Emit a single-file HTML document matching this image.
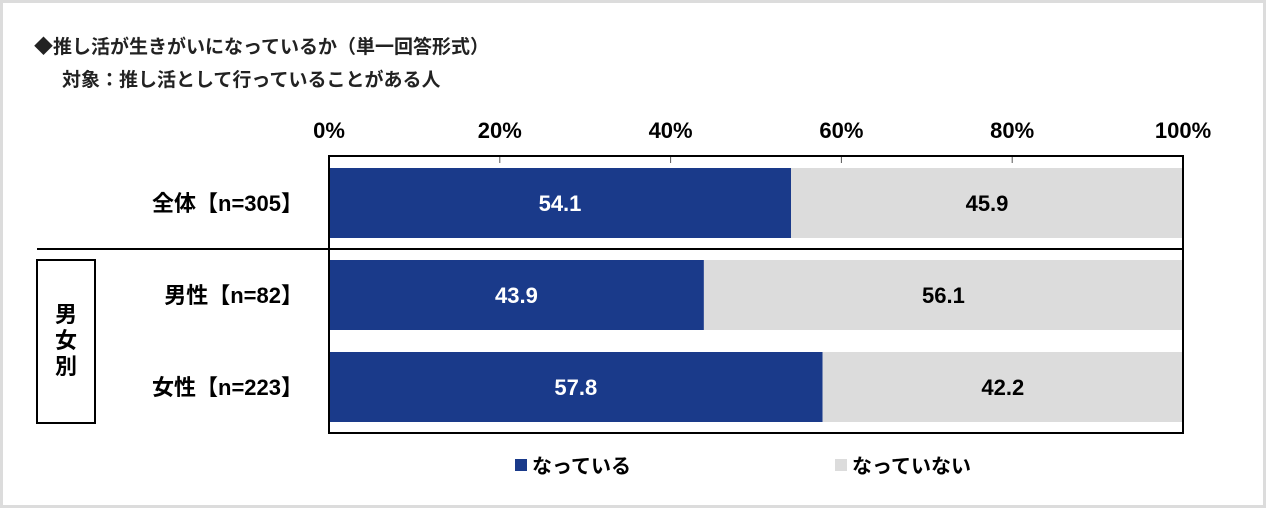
<!DOCTYPE html>
<html><head><meta charset="utf-8"><style>
body{margin:0;background:#fff;}
svg text{font-family:"Liberation Sans","Noto Sans CJK JP",sans-serif;font-weight:bold;}
</style></head><body>
<svg width="1266" height="508" xmlns="http://www.w3.org/2000/svg">
<rect x="1.5" y="1.5" width="1263" height="505" fill="#fff" stroke="#dcdcdc" stroke-width="3"/>
<text x="34" y="53" font-size="19" fill="#222">◆推し活が生きがいになっているか（単一回答形式）</text>
<text x="62" y="86" font-size="19" fill="#222">対象：推し活として行っていることがある人</text>
<g id="axis"></g>
<g id="bars"></g>
<line x1="37" y1="249" x2="1183" y2="249" stroke="#000" stroke-width="2"/>
<rect x="37" y="260" width="58" height="163" fill="#fff" stroke="#000" stroke-width="2"/>
<text x="66" y="322" font-size="22" text-anchor="middle" fill="#000">男</text>
<text x="66" y="348" font-size="22" text-anchor="middle" fill="#000">女</text>
<text x="66" y="374" font-size="22" text-anchor="middle" fill="#000">別</text>
<rect x="329" y="156" width="854" height="277" fill="none" stroke="#000" stroke-width="2"/>
<rect x="515" y="459" width="12" height="12" fill="#1a3a8a"/>
<text x="532" y="473" font-size="20" fill="#000">なっている</text>
<rect x="835" y="459" width="12" height="12" fill="#dcdcdc"/>
<text x="852" y="473" font-size="20" fill="#000">なっていない</text>
</svg>
<script>
const categories=["全体【n=305】","男性【n=82】","女性【n=223】"];
const yesValues=[54.1,43.9,57.8];
const noValues=[45.9,56.1,42.2];
const tickLabels=["0%","20%","40%","60%","80%","100%"];
const tickValues=[0,20,40,60,80,100];
const NS="http://www.w3.org/2000/svg";
const x0=329,x1=1183;
const xs=v=>x0+(x1-x0)*v/100;
const rowTop=[168,260,352],barH=70;
function mk(tag,attrs,parent,txt){const e=document.createElementNS(NS,tag);for(const k in attrs)e.setAttribute(k,attrs[k]);if(txt!==undefined)e.textContent=txt;parent.appendChild(e);return e;}
const ax=document.getElementById('axis');
tickValues.forEach((v,i)=>{
  const t=mk('text',{x:xs(v),y:138,'font-size':22,'text-anchor':'middle',fill:'#000'},ax,tickLabels[i]);
  
  
  if(v>0&&v<100){const l=mk('line',{x1:xs(v),y1:157,x2:xs(v),y2:163,stroke:'#555','stroke-width':1},ax);
  
  }
});
const bg=document.getElementById('bars');
categories.forEach((c,i)=>{
  const y=rowTop[i];
  const lab=mk('text',{x:303,y:y+barH/2+8,'font-size':22,'text-anchor':'end',fill:'#000'},bg,c);
  
  
  const a=mk('rect',{x:xs(0),y:y,width:xs(yesValues[i])-xs(0),height:barH,fill:'#1a3a8a'},bg);
  
  
  const b=mk('rect',{x:xs(yesValues[i]),y:y,width:xs(yesValues[i]+noValues[i])-xs(yesValues[i]),height:barH,fill:'#dcdcdc'},bg);
  
  
  const ta=mk('text',{x:(xs(0)+xs(yesValues[i]))/2,y:y+barH/2+8,'font-size':22,'text-anchor':'middle',fill:'#fff'},bg,yesValues[i].toFixed(1));
  
  
  const tb=mk('text',{x:(xs(yesValues[i])+xs(yesValues[i]+noValues[i]))/2,y:y+barH/2+8,'font-size':22,'text-anchor':'middle',fill:'#000'},bg,noValues[i].toFixed(1));
  
  
});
</script>
</body></html>
